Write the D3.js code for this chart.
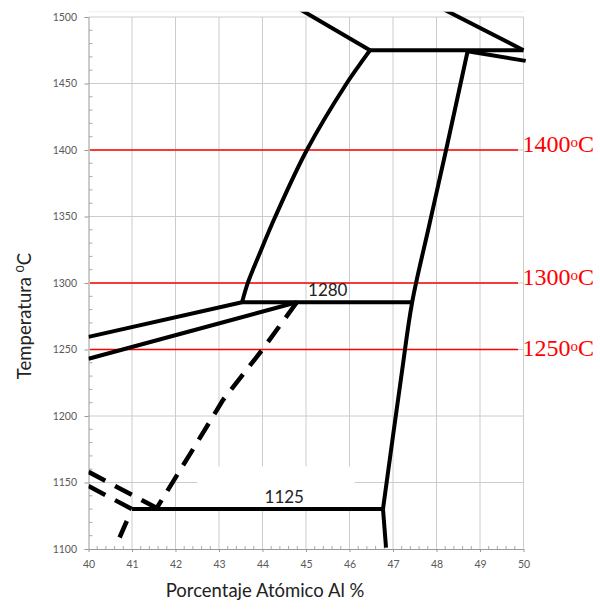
<!DOCTYPE html>
<html>
<head>
<meta charset="utf-8">
<script src="https://cdn.jsdelivr.net/npm/d3@7"></script>
<style>
  body { margin: 0; background: #fff; }
  .tick text { font-family: Lato, sans-serif; fill: #595959; }
</style>
</head>
<body>
<div id="chart"></div>
<script>
// phase boundaries, [Al at.%, temperature]
const liquidusLeft = [[44.85, 1506], [46.47, 1475]]
const liquidusRight = [[48.15, 1506], [50, 1475]]
const peritecticTop = [[46.47, 1475], [50, 1475]]
const peritecticTail = [[48.75, 1474], [50.05, 1467]]
const solvusLeft = [[46.47, 1475], [46.31, 1467.7], [45.94, 1450.4], [45.02, 1400], [44.29, 1349.6], [43.94, 1322.6], [43.67, 1300.8], [43.53, 1285.5]]
const solvusRight = [[48.72, 1475], [48.22, 1400], [47.83, 1343], [47.44, 1285.5], [47.2, 1232], [46.77, 1130]]
const solvusTail = [[46.77, 1130], [46.84, 1101]]
const eutectoid1280 = [[43.53, 1285.5], [47.44, 1285.5]]
const upperLeft = [[40, 1259.5], [43.53, 1285.5]]
const lowerLeft = [[40, 1243], [44.79, 1285.5]]
const eutectoid1125 = [[41, 1130], [46.77, 1130]]
const dashedMain = [[44.79, 1285.5], [43.99, 1249.6], [43.09, 1212], [42.49, 1179.7], [41.57, 1130.8]]
const dashedUpper = [[40, 1158], [41.57, 1130.8]]
const dashedLower = [[40, 1147.3], [41, 1130]]
const dashedShort = [[41, 1130], [40.6, 1100]]

const isotherms = [1400, 1300, 1250]
const lineLabels = [{ text: '1280', x: 45.5, y: 1285.5 }, { text: '1125', x: 44.5, y: 1130 }]
const xTicks = d3.range(40, 51, 1)
const yTicks = d3.range(1100, 1501, 50)

const width = 600
const height = 612
const margin = { top: 17, left: 88.5, right: 76.5, bottom: 63 }
const innerW = width - margin.left - margin.right
const innerH = height - margin.top - margin.bottom

const svg = d3
  .select('#chart')
  .append('svg')
  .attr('width', width)
  .attr('height', height)

const g = svg
  .append('g')
  .attr('transform', 'translate(' + margin.left + ',' + margin.top + ')')

const x = d3.scaleLinear().domain([40, 50]).range([0, innerW])
const y = d3.scaleLinear().domain([1100, 1500]).range([innerH, 0])

// faint plot border on top
g.append('line')
  .attr('x1', 0)
  .attr('x2', innerW)
  .attr('y1', y(1504))
  .attr('y2', y(1504))
  .attr('stroke', '#eeeeee')

// grid
g.append('g')
  .selectAll('line')
  .data(xTicks.slice(1))
  .enter()
  .append('line')
  .attr('x1', d => x(d))
  .attr('x2', d => x(d))
  .attr('y1', 0)
  .attr('y2', innerH)
  .attr('stroke', '#cccccc')

g.append('g')
  .selectAll('line')
  .data(yTicks.slice(1))
  .enter()
  .append('line')
  .attr('x1', 0)
  .attr('x2', innerW)
  .attr('y1', d => y(d))
  .attr('y2', d => y(d))
  .attr('stroke', '#cccccc')

// axes
const xAxis = d3.axisBottom(x).tickValues(xTicks).tickSize(3).tickPadding(9).tickFormat(d3.format('d'))
const yAxis = d3.axisLeft(y).tickValues(yTicks).tickSize(4).tickPadding(7.5).tickFormat(d3.format('d'))

const gx = g.append('g').attr('transform', `translate(0,${innerH})`).call(xAxis)
const gy = g.append('g').call(yAxis)

gx.selectAll('.tick line').attr('stroke', '#999')
gy.selectAll('.tick line').attr('stroke', '#999')
gx.select('.domain').attr('stroke', '#999').attr('d', `M0,0.5H${innerW}`)
gy.select('.domain').attr('stroke', '#999').attr('d', `M0.5,0V${innerH}`)
gx.selectAll('text').style('font-size', '10.5px')
gy.selectAll('text').style('font-size', '10.5px')

// minor ticks
g.append('g')
  .selectAll('line')
  .data(d3.range(40, 50.01, 0.2).filter(d => Math.abs(d - Math.round(d)) > 0.01))
  .enter()
  .append('line')
  .attr('x1', d => x(d))
  .attr('x2', d => x(d))
  .attr('y1', innerH)
  .attr('y2', innerH - 3)
  .attr('stroke', '#aaa')

g.append('g')
  .selectAll('line')
  .data(d3.range(1100, 1500.1, 10).filter(d => d % 50 !== 0))
  .enter()
  .append('line')
  .attr('x1', 0.5)
  .attr('x2', 4)
  .attr('y1', d => y(d))
  .attr('y2', d => y(d))
  .attr('stroke', '#aaa')

// white box behind 1125 label (hides the grid like the original)
g.append('rect')
  .attr('x', x(42.5))
  .attr('y', y(1162))
  .attr('width', x(46.12) - x(42.5))
  .attr('height', y(1130) - y(1162))
  .attr('fill', '#fff')

// red isotherms
g.selectAll('.iso')
  .data(isotherms)
  .enter()
  .append('line')
  .attr('class', 'iso')
  .attr('x1', 1.5)
  .attr('x2', innerW - 5.5)
  .attr('y1', d => y(d))
  .attr('y2', d => y(d))
  .attr('stroke', '#ff0000')
  .attr('stroke-width', 1.6)

const isoLabel = g.selectAll('.iso-label')
  .data(isotherms)
  .enter()
  .append('text')
  .attr('class', 'iso-label')
  .attr('x', innerW - 1)
  .attr('y', d => y(d))
  .attr('dy', d => (d === 1250 ? 6 : 2))
  .attr('fill', '#ff0000')
  .style('font-family', '"Liberation Serif", "DejaVu Serif", serif')
  .style('font-size', '24px')

isoLabel.append('tspan').text(d => d)
isoLabel.append('tspan').text('o').style('font-size', '15px').attr('dy', -5)
isoLabel.append('tspan').text('C').attr('dy', 5)

// phase diagram lines
g.append('clipPath')
  .attr('id', 'plot-clip')
  .append('rect')
  .attr('x', 0)
  .attr('y', y(1504))
  .attr('width', innerW + 4)
  .attr('height', y(1100) - y(1504))

const curve = d3.line().x(d => x(d[0])).y(d => y(d[1])).curve(d3.curveCatmullRom.alpha(0.5))
const straight = d3.line().x(d => x(d[0])).y(d => y(d[1]))

const solid = [liquidusLeft, liquidusRight, peritecticTop, peritecticTail, solvusLeft, solvusRight,
  solvusTail, eutectoid1280, upperLeft, lowerLeft, eutectoid1125]
const dashed = [dashedMain, dashedUpper, dashedLower]

const lines = g.append('g').attr('clip-path', 'url(#plot-clip)')

lines.selectAll('.solid')
  .data(solid)
  .enter()
  .append('path')
  .attr('class', 'solid')
  .attr('d', curve)
  .attr('fill', 'none')
  .attr('stroke', '#000')
  .attr('stroke-width', 4)
  .attr('stroke-linejoin', 'round')

lines.selectAll('.dashed')
  .data(dashed)
  .enter()
  .append('path')
  .attr('class', 'dashed')
  .attr('d', straight)
  .attr('fill', 'none')
  .attr('stroke', '#000')
  .attr('stroke-width', 4.5)
  .attr('stroke-dasharray', '19,11')

lines.append('path')
  .datum(dashedShort)
  .attr('d', straight)
  .attr('fill', 'none')
  .attr('stroke', '#000')
  .attr('stroke-width', 4.5)
  .attr('stroke-dasharray', '0,13,18,100')

g.selectAll('.line-label')
  .data(lineLabels)
  .enter()
  .append('text')
  .attr('class', 'line-label')
  .attr('x', d => x(d.x))
  .attr('y', d => y(d.y) - 6)
  .attr('text-anchor', 'middle')
  .attr('fill', '#222')
  .style('font-family', 'Lato, sans-serif')
  .style('font-size', '17px')
  .text(d => d.text)

// axis titles
svg.append('text')
  .attr('x', 265)
  .attr('y', 597)
  .attr('text-anchor', 'middle')
  .attr('fill', '#222')
  .style('font-family', 'Lato, sans-serif')
  .style('font-size', '18.5px')
  .text('Porcentaje Atómico Al %')

const yTitle = svg.append('text')
  .attr('transform', 'translate(31,316) rotate(-90)')
  .attr('text-anchor', 'middle')
  .attr('fill', '#222')
  .style('font-family', 'Lato, sans-serif')
  .style('font-size', '18.5px')

yTitle.append('tspan').text('Temperatura ')
yTitle.append('tspan').text('0').style('font-size', '12px').attr('dy', -7)
yTitle.append('tspan').text('C').attr('dy', 7)
</script>
</body>
</html>
